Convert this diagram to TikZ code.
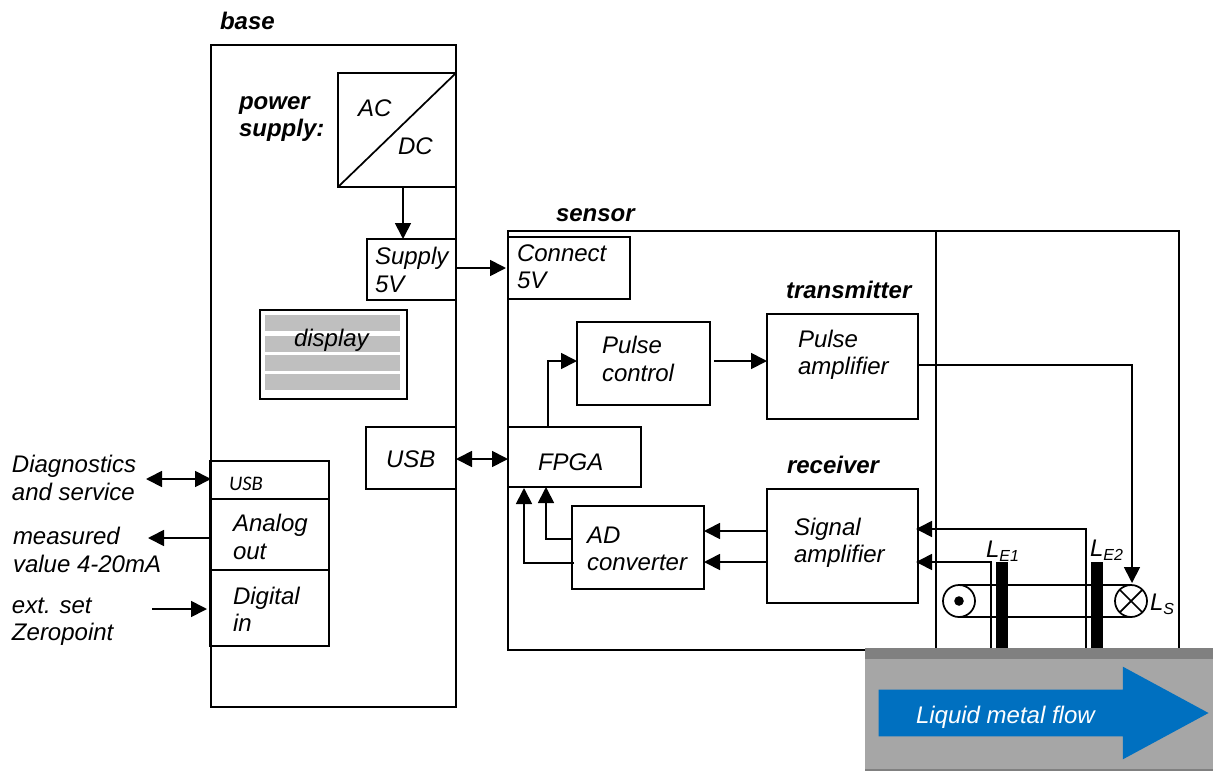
\documentclass[tikz,border=0pt]{standalone}
\usepackage{fontspec}
\setmainfont{Liberation Sans}
\newfontfamily\portfont{Carlito}
\usetikzlibrary{arrows.meta,shapes.arrows}

\definecolor{flowblue}{HTML}{0070C0}
\definecolor{pipegray}{HTML}{A6A6A6}
\definecolor{pipedark}{HTML}{808080}
\definecolor{bargray}{HTML}{BFBFBF}

\tikzset{
    every node/.style={inner sep=0pt, outer sep=0pt},
    block/.style={draw, line width=1.5pt},
    txt/.style={anchor=west, align=left, font=\fontsize{18}{20.5}\selectfont\itshape},
    head/.style={anchor=west, font=\fontsize{18}{20.5}\selectfont\bfseries\itshape},
    wire/.style={line width=1.3pt, >={Triangle[length=12pt,width=12pt]}},
    dispbar/.style={fill=bargray, minimum width=101.25pt, minimum height=12pt},
    pole/.style={fill=black, minimum width=9pt, minimum height=64.5pt},
    coil/.style={draw, circle, line width=1.3pt, minimum size=24pt}
}

\begin{document}
\begin{tikzpicture}[x=0.75pt, y=-0.75pt]
    \useasboundingbox (0,0) rectangle (1213,771);

    % base
    \node[block, minimum width=183.75pt, minimum height=496.5pt] (base) at (333.5,376) {};
    \node[head] (basetext) at (220,21) {base};
    \node[block, minimum width=88.5pt, minimum height=85.5pt] (acdc) at (397,130) {};
    \draw[line width=1.3pt] (acdc.south west) -- (acdc.north east);
    \node[txt] (actext) at (358,108) {AC};
    \node[txt] (dctext) at (398,146) {DC};
    \node[head, align=left] (powertext) at (239,119) {power\\supply:};
    \node[block, minimum width=66.75pt, minimum height=45.75pt] (supply) at (411.5,269.5) {};
    \node[txt] (supplytext) at (375,270) {Supply\\5V};
    \node[block, minimum width=110.25pt, minimum height=66.75pt] (display) at (333.5,354.5) {};
    \foreach \y in {323,344,363,382}
        \node[dispbar] (bar\y) at (332.5,\y) {};
    \node[txt] (displaytext) at (294,340) {display};
    \node[block, minimum width=67.5pt, minimum height=46.5pt] (usb) at (411,458) {};
    \node[txt] (usbtext) at (386,459) {USB};

    % ports
    \node[block, minimum width=89.25pt, minimum height=28.5pt] (usbport) at (269.5,480) {};
    \node[txt, font=\fontsize{15.5}{18}\selectfont\portfont\itshape] (usbporttext) at (229,484) {USB};
    \node[block, minimum width=89.25pt, minimum height=53.25pt] (analog) at (269.5,534.5) {};
    \node[txt] (analogtext) at (233,537) {Analog\\out};
    \node[block, minimum width=89.25pt, minimum height=57pt] (digital) at (269.5,608) {};
    \node[txt] (digitaltext) at (233,609) {Digital\\in};
    \node[txt] (diagtext) at (12,478) {Diagnostics\\and service};
    \node[txt] (measuredtext) at (13,550) {measured\\value 4-20mA};
    \node[txt] (exttext) at (12,622) {ext. set\\Zeropoint};

    % sensor
    \node[block, minimum width=503.25pt, minimum height=314.25pt] (sensor) at (843.5,440.5) {};
    \node[head] (sensortext) at (556,215) {sensor};
    \draw[line width=1.5pt] (936,231) coordinate (splittop) -- (splittop |- sensor.south);
    \node[block, minimum width=91.5pt, minimum height=46.5pt] (connect) at (569,268) {};
    \node[txt] (connecttext) at (517,267) {Connect\\5V};
    \node[block, minimum width=99.75pt, minimum height=62.25pt] (pulsectrl) at (643.5,363.5) {};
    \node[txt] (pulsectrltext) at (602,359) {Pulse\\control};
    \node[head] (transmittertext) at (786,290) {transmitter};
    \node[block, minimum width=113.25pt, minimum height=78.75pt] (pulseamp) at (842.5,366.5) {};
    \node[txt] (pulseamptext) at (798,355) {Pulse\\amplifier};
    \node[block, minimum width=99.75pt, minimum height=45pt] (fpga) at (574.5,457) {};
    \node[txt] (fpgatext) at (538,462) {FPGA};
    \node[block, minimum width=99pt, minimum height=62.25pt] (adconv) at (638,547.5) {};
    \node[txt] (adconvtext) at (587,549) {AD\\converter};
    \node[head] (receivertext) at (787,465) {receiver};
    \node[block, minimum width=113.25pt, minimum height=85.5pt] (signal) at (842.5,546) {};
    \node[txt] (signaltext) at (794,543) {Signal\\amplifier};

    % coils
    \node[pole] (pole1) at (1002,605) {};
    \node[pole] (pole2) at (1097,605) {};
    \node[coil] (exciter) at (959,601) {};
    \fill (exciter.center) circle (3.6pt);
    \node[coil] (ls) at (1131,601) {};
    \draw[line width=1.3pt] (ls.north west) -- (ls.south east);
    \draw[line width=1.3pt] (ls.north east) -- (ls.south west);
    \draw[line width=1.3pt] (exciter.north) -- (ls.north);
    \draw[line width=1.3pt] (exciter.south) -- (ls.south);
    \node[txt] (le1text) at (986,551) {L{\fontsize{12}{12}\selectfont\raisebox{-3pt}{E1}}};
    \node[txt] (le2text) at (1090,550) {L{\fontsize{12}{12}\selectfont\raisebox{-3pt}{E2}}};
    \node[txt] (lstext) at (1150,604) {L{\fontsize{12}{12}\selectfont\raisebox{-3pt}{S}}};

    \coordinate (acout) at (403,187);
    \coordinate (supplyout) at (456,268);
    \coordinate (connectin) at (506,268);
    \coordinate (usbout) at (456,459);
    \coordinate (fpgaout) at (548,427);
    \coordinate (pulsein) at (577,361);
    \coordinate (pulseout) at (714,361);
    \coordinate (pulseampout) at (918,365);
    \coordinate (adout1) at (572,539);
    \coordinate (adout2) at (574,563);
    \coordinate (fpgain1) at (546,487);
    \coordinate (fpgain2) at (524,488);
    \coordinate (sigout1) at (767,531);
    \coordinate (sigout2) at (767,562);
    \coordinate (e1foot) at (991,648);
    \coordinate (e2foot) at (1086,648);
    \coordinate (sigin1) at (916,529);
    \coordinate (sigin2) at (916,562);
    \coordinate (diagend) at (146,479);
    \coordinate (measuredend) at (148,538);
    \coordinate (digitalstart) at (152,609);
    \coordinate (digitalend) at (207,609);
    \coordinate (lstop) at (1132,583);

    \draw[wire, ->] (acout) -- (acout |- supply.north);
    \draw[wire, ->] (supplyout) -- (connectin);
    \draw[wire, <->] (usbout) -- (fpga.west |- usbout);
    \draw[wire, ->] (fpgaout) |- (pulsein);
    \draw[wire, ->] (pulseout) -- (pulseamp.west |- pulseout);
    \draw[wire, ->] (pulseampout) -| (lstop);
    \draw[wire, ->] (adout1) -| (fpgain1);
    \draw[wire, ->] (adout2) -| (fpgain2);
    \draw[wire, ->] (sigout1) -- (adconv.east |- sigout1);
    \draw[wire, ->] (sigout2) -- (adconv.east |- sigout2);
    \draw[wire, ->] (e2foot) |- (sigin1);
    \draw[wire, ->] (e1foot) |- (sigin2);
    \draw[wire, <->] (diagend) -- (base.west |- diagend);
    \draw[wire, ->] (analog.west |- measuredend) -- (measuredend);
    \draw[wire, ->] (digitalstart) -- (digitalend);

    % pipe
    \node[fill=pipegray, minimum width=261pt, minimum height=91.5pt] (pipe) at (1039,709) {};
    \node[fill=pipedark, minimum width=261pt, minimum height=8.25pt] (pipetop) at (1039,653.5) {};
    \node[fill=pipedark, minimum width=261pt, minimum height=1.5pt] (pipebottom) at (1039,770) {};
    \node[single arrow, fill=flowblue, inner ysep=17.25pt, minimum height=247.5pt, minimum width=69pt,
        single arrow head extend=17.25pt, single arrow head indent=0pt, single arrow tip angle=56.8] (flow) at (1022,713) {};
    \node[txt] (flowtext) [text=white] at (916,717) {Liquid metal flow};
\end{tikzpicture}
\end{document}
